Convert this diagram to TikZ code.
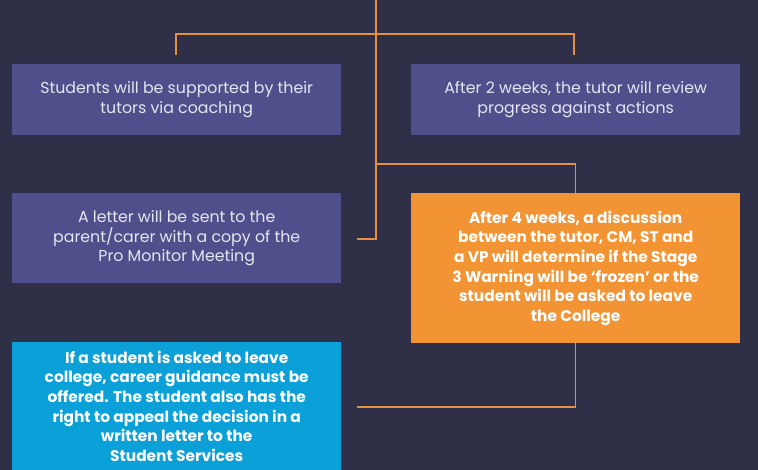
\documentclass[tikz,border=0pt]{standalone}
\usepackage{fontspec}
\setmainfont{Poppins}
\definecolor{bg}{HTML}{2F3048}
\definecolor{slate}{HTML}{4F4F8C}
\definecolor{orangebox}{HTML}{F29434}
\definecolor{bluebox}{HTML}{0BA0D8}
\definecolor{wire}{HTML}{E39141}
\definecolor{lighttext}{HTML}{E6E6F0}
\begin{document}
\begin{tikzpicture}[x=1pt,y=-1pt,
  box/.style={anchor=north west, inner sep=0pt, minimum width=329pt, align=center, font=\fontsize{15.8}{19.8}\selectfont},
  slatebox/.style={box, fill=slate, text=lighttext},
  hotbox/.style={box, fill=orangebox, text=white, font=\fontsize{15.4}{19.6}\selectfont\bfseries},
  coolbox/.style={box, fill=bluebox, text=white, font=\fontsize{15.4}{19.6}\selectfont\bfseries},
  wireline/.style={draw=wire, line width=1.4pt}]
\fill[bg] (0,0) rectangle (758,470);
\useasboundingbox (0,0) rectangle (758,470);
% boxes
\node[slatebox, minimum height=71pt] (support) at (12,64) {Students will be supported by their\\tutors via coaching};
\node[slatebox, minimum height=71pt] (review) at (411,64) {After 2 weeks, the tutor will review\\progress against actions};
\node[slatebox, minimum height=90pt] (letter) at (12,193) {A letter will be sent to the\\parent/carer with a copy of the\\Pro Monitor Meeting};
\node[hotbox, minimum height=150pt] (discuss) at (411,193) {After 4 weeks, a discussion\\between the tutor, CM, ST and\\a VP will determine if the Stage\\3 Warning will be ‘frozen’ or the\\student will be asked to leave\\the College};
\node[coolbox, minimum height=128pt] (leave) at (12,342) {If a student is asked to leave\\college, career guidance must be\\offered. The student also has the\\right to appeal the decision in a\\written letter to the\\Student Services};
% coordinates
\coordinate (top) at (376,0);
\coordinate (trunkend) at (376,239);
\coordinate (trunkfree) at (357,239);
\coordinate (bl) at (176,34);
\coordinate (br) at (574,34);
\coordinate (blend) at (176,55);
\coordinate (brend) at (574,55);
\coordinate (split) at (376,164);
\coordinate (bottomcorner) at (discuss.south |- 0,407);
\coordinate (bottomfree) at (357,407);
% connectors
\draw[wireline] (top) -- (trunkend) -- (trunkfree);
\draw[wireline] (blend) -- (bl) -- (br) -- (brend);
\draw[wireline] (split) -| (discuss.north);
\draw[wireline] (discuss.south) -- (bottomcorner) -- (bottomfree);
\end{tikzpicture}
\end{document}
